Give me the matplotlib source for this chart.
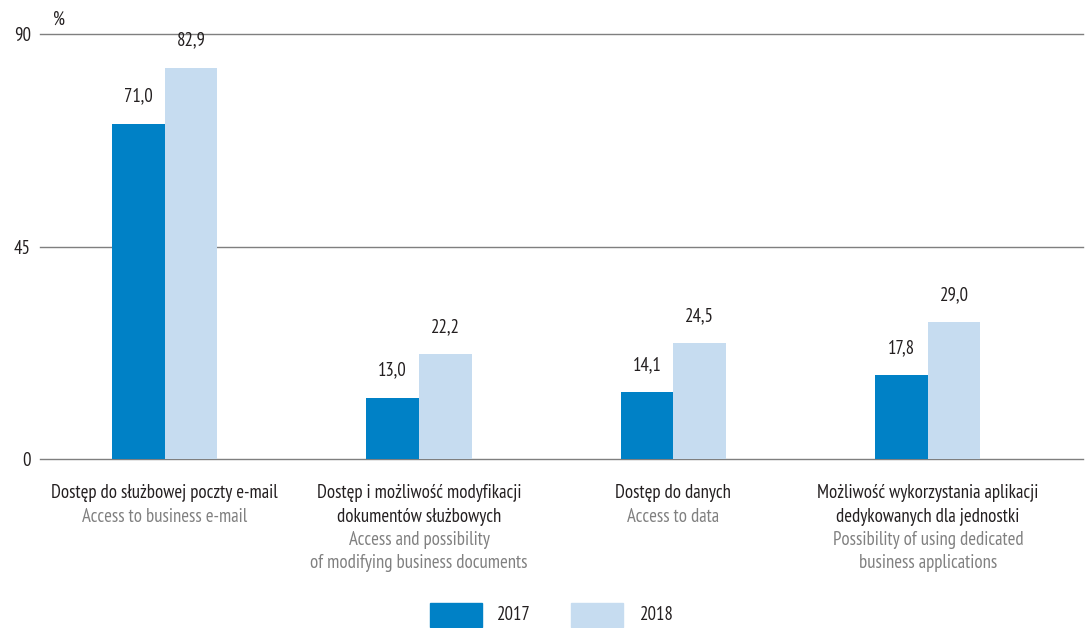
import matplotlib
matplotlib.use("Agg")
import matplotlib.pyplot as plt
from matplotlib.patches import Rectangle

plt.rcParams["font.family"] = ["PT Sans Narrow", "DejaVu Sans"]

categories_pl = [
    "Dostęp do służbowej poczty e-mail",
    "Dostęp i możliwość modyfikacji\ndokumentów służbowych",
    "Dostęp do danych",
    "Możliwość wykorzystania aplikacji\ndedykowanych dla jednostki",
]
categories_en = [
    "Access to business e-mail",
    "Access and possibility\nof modifying business documents",
    "Access to data",
    "Possibility of using dedicated\nbusiness applications",
]
series_names = ["2017", "2018"]
values_2017 = [71.0, 13.0, 14.1, 17.8]
values_2018 = [82.9, 22.2, 24.5, 29.0]
yticks = [0, 45, 90]

c2017 = "#0081c6"
c2018 = "#c6dcf0"
dark = "#231f20"
grey = "#808080"
FS = 13.5

fig = plt.figure(figsize=(10.85, 6.28), dpi=100)
ax = fig.add_axes([40 / 1085, (628 - 459) / 628, (1083 - 40) / 1085, 425 / 628])

x = list(range(len(categories_pl)))
w = 0.207
b1 = ax.bar([i - w / 2 for i in x], values_2017, width=w, color=c2017, zorder=3)
b2 = ax.bar([i + w / 2 for i in x], values_2018, width=w, color=c2018, zorder=3)

for bars, vals in ((b1, values_2017), (b2, values_2018)):
    for r, v in zip(bars, vals):
        ax.annotate(f"{v:.1f}".replace(".", ","),
                    (r.get_x() + r.get_width() / 2, v),
                    xytext=(0, 13), textcoords="offset points",
                    ha="center", va="bottom", fontsize=FS, color=dark)

ax.set_xlim(-0.49, 3.61)
ax.set_ylim(0, 90)
ax.set_yticks(yticks)
ax.set_yticklabels([str(t) for t in yticks], fontsize=FS, color=dark)
ax.tick_params(axis="y", length=0, pad=6.5)
ax.tick_params(axis="x", length=0, labelbottom=False)
for s in ax.spines.values():
    s.set_visible(False)
for t in yticks:
    ax.axhline(t, color="#7f7f7f", lw=1.0, zorder=1, clip_on=False)

ax.text(53 / 1085, 1 - 20 / 628, "%", transform=fig.transFigure,
        fontsize=FS, color=dark, ha="left", va="center")

# category labels: Polish (dark) then English (grey)
line_h = 23.5 / 628
for i, (pl, en) in enumerate(zip(categories_pl, categories_en)):
    xf = ax.transData.transform((i, 0))[0]
    xf = fig.transFigure.inverted().transform((xf, 0))[0]
    y0 = 1 - 493 / 628
    n_pl = pl.count("\n") + 1
    for k, line in enumerate(pl.split("\n")):
        fig.text(xf, y0 - k * line_h, line, ha="center", va="center",
                 fontsize=FS, color=dark)
    for k, line in enumerate(en.split("\n")):
        fig.text(xf, y0 - (n_pl + k) * line_h, line, ha="center", va="center",
                 fontsize=FS, color=grey)

# legend
ly = 1 - 615 / 628
for x0, col, lab, tx in ((430, c2017, series_names[0], 497), (571, c2018, series_names[1], 640)):
    fig.patches.append(Rectangle((x0 / 1085, 1 - 627 / 628), 52 / 1085, 24 / 628,
                                 transform=fig.transFigure, color=col))
    fig.text(tx / 1085, ly, lab, ha="left", va="center", fontsize=FS, color=dark)

fig.savefig("out.png", dpi=100)
